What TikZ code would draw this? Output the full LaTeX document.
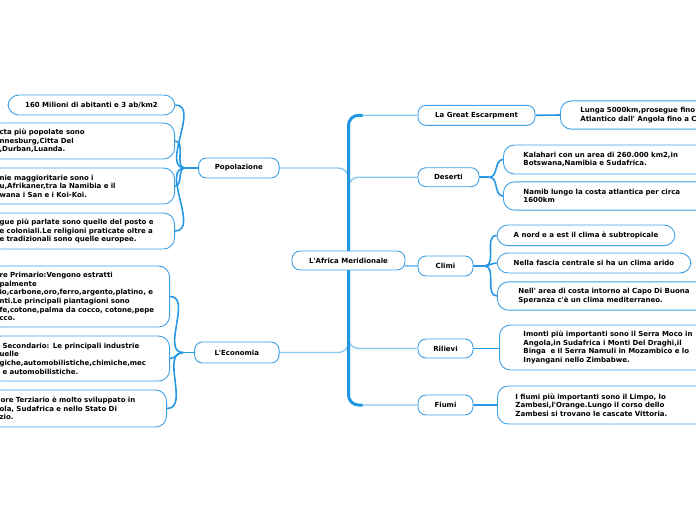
\documentclass[tikz,border=0pt]{standalone}
\usepackage{fontspec}
\setmainfont{DejaVu Sans}[Ligatures=TeXOff]
\usetikzlibrary{backgrounds}
\definecolor{nodeb}{RGB}{62,160,230}
\definecolor{trunkc}{RGB}{30,150,226}
\definecolor{subc}{RGB}{40,152,228}
\definecolor{lvlc}{RGB}{135,200,242}
\tikzset{
  base/.style={draw=nodeb, line width=0.9pt, fill=white, text=black,
    font=\fontsize{7}{8.6}\selectfont\bfseries},
  topic/.style={base, rounded corners=8pt, minimum height=19pt, inner xsep=4pt, inner ysep=0pt},
  leaf/.style={base, rounded corners=11pt, inner ysep=0pt},
  lefttext/.style={leaf, align=left, anchor=east, inner xsep=10pt, text width=#1},
  righttext/.style={leaf, align=left, anchor=west, inner xsep=#1, text width=200pt},
  trunk/.style={draw=trunkc, line width=3pt},
  lvl/.style={draw=lvlc, line width=1.4pt, rounded corners=10pt},
  sub/.style={draw=subc, line width=1.6pt},
}
\begin{document}
\begin{tikzpicture}[x=1pt,y=-1pt]
\path[use as bounding box, clip] (0,0) rectangle (696,520);

% central and main topics
\node[topic, minimum width=113pt] (center) at (348.5,260.5) {L'Africa Meridionale};
\node[topic, minimum width=117pt, minimum height=20pt] (ge) at (476.5,115.3) {La Great Escarpment};
\node[topic, minimum width=61pt] (des) at (448.5,177.2) {Deserti};
\node[topic, minimum width=55pt, minimum height=20pt] (cli) at (445.5,266) {Climi};
\node[topic, minimum width=55pt] (ril) at (445.5,348.5) {Rilievi};
\node[topic, minimum width=55pt, minimum height=20pt] (fiu) at (445.5,405) {Fiumi};
\node[topic, minimum width=80.5pt, minimum height=20pt] (pop) at (238.8,168) {Popolazione};
\node[topic, minimum width=84.5pt, minimum height=21pt] (eco) at (236.8,352.5) {L'Economia};

% right leaves
\node[righttext=20pt, minimum height=28.3pt] (gec) at (560,115) {Lunga 5000km,prosegue fino\\Atlantico dall' Angola fino a C};
\node[righttext=20pt, minimum height=29pt] (k1) at (503,159.5) {Kalahari con un area di 260.000 km2,in\\Botswana,Namibia e Sudafrica.};
\node[righttext=20pt, minimum height=28.3pt] (k2) at (503,196) {Namib lungo la costa atlantica per circa\\1600km};
\node[leaf, minimum width=178pt, minimum height=20.7pt] (m1) at (586,235.3) {A nord e a est il clima è subtropicale};
\node[leaf, minimum width=194pt, minimum height=20pt] (m2) at (594,263) {Nella fascia centrale si ha un clima arido};
\node[righttext=21pt, minimum height=28.3pt] (m3) at (497,296) {Nell' area di costa intorno al Capo Di Buona\\Speranza c'è un clima mediterraneo.};
\node[righttext=24pt, minimum height=45pt] (r1) at (499,347.5) {Imonti più importanti sono il Serra Moco in\\Angola,in Sudafrica i Monti Del Draghi,il\\Binga\ \ e il Serra Namuli in Mozambico e lo\\Inyangani nello Zimbabwe.};
\node[righttext=18pt, minimum height=38pt] (f1) at (497,405) {I fiumi più importanti sono il Limpo, lo\\Zambesi,l'Orange.Lungo il corso dello\\Zambesi si trovano le cascate Vittoria.};

% left leaves
\node[leaf, minimum width=167pt, minimum height=20pt] (c1) at (91.5,105) {160 Milioni di abitanti e 3 ab/km2};
\node[lefttext=165pt, minimum height=36pt] (c2) at (175,141) {cta più popolate sono\\nnesburg,Citta Del\\,Durban,Luanda.};
\node[lefttext=165pt, minimum height=36pt] (c3) at (175,186) {nie maggioritarie sono i\\u,Afrikaner,tra la Namibia e il\\wana i San e i Koi-Koi.};
\node[lefttext=165pt, minimum height=36pt] (c4) at (175,231) {gue più parlate sono quelle del posto e\\e coloniali.Le religioni praticate oltre a\\e tradizionali sono quelle europee.};
\node[lefttext=160pt, minimum height=61pt] (e1) at (170,296.5) {re Primario:Vengono estratti\\palmente\\io,carbone,oro,ferro,argento,platino, e\\nti.Le principali piantagioni sono\\fe,cotone,palma da cocco, cotone,pepe\\cco.};
\node[lefttext=160pt, minimum height=45pt] (e2) at (170,358.5) {\hspace*{3pt}Secondario: Le principali industrie\\uelle\\giche,automobilistiche,chimiche,mec\\\hspace*{3pt}e automobilistiche.};
\node[lefttext=157pt, minimum height=37pt] (e3) at (167,408.5) {\hspace*{1pt}ore Terziario è molto sviluppato in\\ola, Sudafrica e nello Stato Di\\zio.};

% split points
\coordinate (psplit) at ([xshift=-13pt]pop.west);
\coordinate (esplit) at ([xshift=-11pt]eco.west);
\coordinate (dsplit) at ([xshift=10pt]des.east);
\coordinate (csplit) at ([xshift=11pt]cli.east);

\begin{scope}[on background layer]
  % main branches
  \draw[lvl] (center) |- (ge.west);
  \draw[lvl] (center) |- (des.west);
  \draw[lvl] (center) |- (ril.west);
  \draw[lvl] (center) |- (fiu.west);
  \draw[lvl] (center) |- (pop.east);
  \draw[lvl] (center) |- (eco.east);
  \draw[lvl] (center.east |- cli.west) -- (cli.west);
  % trunk
  \draw[trunk, rounded corners=10pt] ([xshift=14pt]center.center |- ge.west) -| (center.center)
     |- ([xshift=14pt]center.center |- fiu.west);
  % sub branches
  \draw[sub] (ge.east) -- (gec.west);
  \draw[sub] (des.east) -- (dsplit);
  \draw[sub] (dsplit) to[out=0,in=180] (k1.west);
  \draw[sub] (dsplit) to[out=0,in=180] (k2.west);
  \draw[sub] (cli.east) -- (csplit);
  \draw[sub] (csplit) to[out=0,in=180] (m1.west);
  \draw[sub] (csplit) to[out=0,in=180] (m2.west);
  \draw[sub] (csplit) to[out=0,in=180] (m3.west);
  \draw[sub] (ril.east) -- (ril.east -| r1.west);
  \draw[sub] (fiu.east) -- (f1.west);
  \draw[sub] (pop.west) -- (psplit);
  \draw[sub] (psplit) to[out=180,in=0] (c1.east);
  \draw[sub] (psplit) to[out=180,in=0] (c2.east);
  \draw[sub] (psplit) to[out=180,in=0] (c3.east);
  \draw[sub] (psplit) to[out=180,in=0] (c4.east);
  \draw[sub] (eco.west) -- (esplit);
  \draw[sub] (esplit) to[out=180,in=0] (e1.east);
  \draw[sub] (esplit) to[out=180,in=0] (e2.east);
  \draw[sub] (esplit) to[out=180,in=0] (e3.east);
\end{scope}
\end{tikzpicture}
\end{document}
